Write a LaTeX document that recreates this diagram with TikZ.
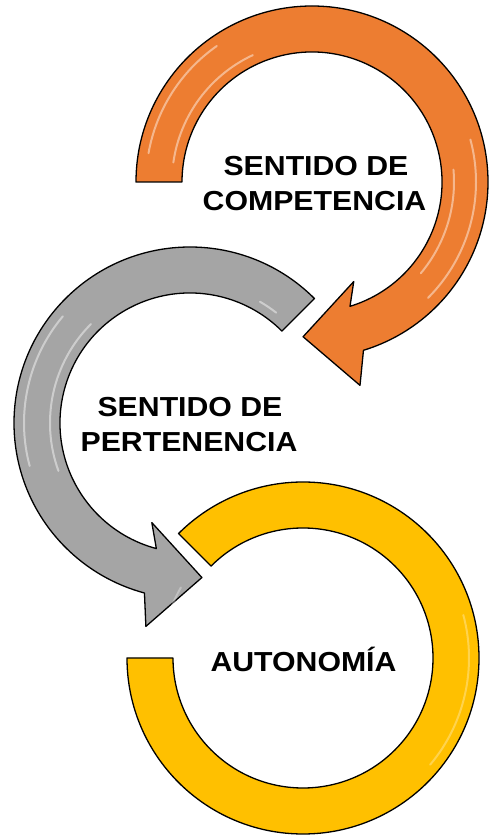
\documentclass[tikz,border=0pt]{standalone}
\usepackage{fontspec}
\setmainfont{Liberation Sans}[FakeStretch=1.1]
\usetikzlibrary{calc}
\definecolor{ringorange}{HTML}{ED7D31}
\definecolor{ringgray}{HTML}{A5A5A5}
\definecolor{ringyellow}{HTML}{FFC000}
\begin{document}
\begin{tikzpicture}[x=1pt,y=1pt,
  ringline/.style={draw=black, line width=1.3pt, line join=round},
  lbl/.style={font=\bfseries\fontsize{27.5}{33}\selectfont, inner sep=0pt, anchor=base},
  gloss/.style={draw=white, line width=2pt, opacity=0.45, line cap=round}]
\useasboundingbox (0,0) rectangle (488,836);

% ---------- orange ring ----------
\coordinate (oc) at (312,654);
\coordinate (oB) at ($(oc)+(-73.5:158)$);
\coordinate (oT) at ($(oc)+(-93.3:155)$);
\coordinate (oBo) at ($(oB)!52pt!90:(oT)$);
\coordinate (oBi) at ($(oB)!52pt!-90:(oT)$);
\draw[ringline, fill=ringorange] ($(oc)+(180:176)$) arc[start angle=180, end angle=-73, radius=176]
  -- (oBo) -- (oT) -- (oBi) -- ($(oc)+(-73:130)$) arc[start angle=-73, end angle=180, radius=130] -- cycle;
\draw[gloss] ($(oc)+(172:140)$) arc[start angle=172, end angle=115, radius=140];
\draw[gloss] ($(oc)+(170:166)$) arc[start angle=170, end angle=125, radius=166];
\draw[gloss] ($(oc)+(15:164)$) arc[start angle=15, end angle=-45, radius=164];
\draw[gloss] ($(oc)+(5:142)$) arc[start angle=5, end angle=-40, radius=142];

% ---------- gray ring ----------
\coordinate (gc) at (190,413);
\coordinate (gB) at ($(gc)+(254.8:157)$);
\coordinate (gT) at ($(gc)+(274.4:155)$);
\coordinate (gBo) at ($(gB)!52pt!-90:(gT)$);
\coordinate (gBi) at ($(gB)!52pt!90:(gT)$);
\draw[ringline, fill=ringgray] ($(gc)+(45:176)$) arc[start angle=45, end angle=255, radius=176]
  -- (gBo) -- (gT) -- (gBi) -- ($(gc)+(255:130)$) arc[start angle=255, end angle=45, radius=130] -- cycle;
\draw[gloss] ($(gc)+(200:140)$) arc[start angle=200, end angle=135, radius=140];
\draw[gloss] ($(gc)+(195:166)$) arc[start angle=195, end angle=140, radius=166];
\draw[gloss] ($(gc)+(52:140)$) arc[start angle=52, end angle=60, radius=140];

% ---------- yellow ring ----------
\coordinate (yc) at (303,178);
\draw[ringline, fill=ringyellow] ($(yc)+(180:176)$) arc[start angle=180, end angle=495, radius=176]
  -- ($(yc)+(135:130)$) arc[start angle=495, end angle=180, radius=130] -- cycle;
\draw[gloss, opacity=0.3] ($(yc)+(15:166)$) arc[start angle=15, end angle=-40, radius=166];
\draw[gloss, opacity=0.3] ($(yc)+(172:141)$) arc[start angle=172, end angle=150, radius=141];

% ---------- labels ----------
\node[lbl] (comp1) at (316,660) {SENTIDO DE};
\node[lbl] (comp2) at (314.5,625) {COMPETENCIA};
\node[lbl] (pert1) at (190,419) {SENTIDO DE};
\node[lbl] (pert2) at (189,384) {PERTENENCIA};
\node[lbl] (auto) at (303.5,164) {AUTONOMÍA};
\end{tikzpicture}
\end{document}
